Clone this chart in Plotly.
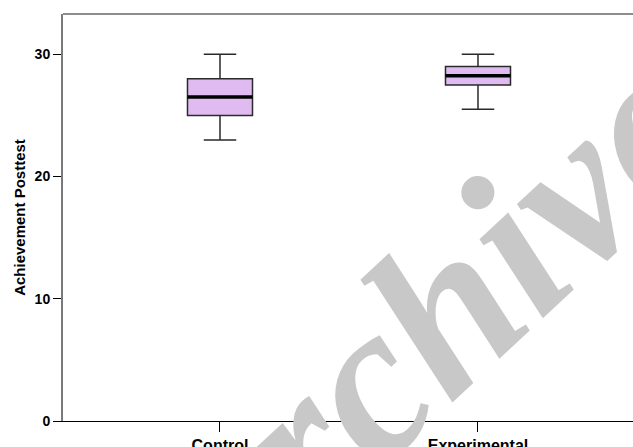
import plotly.graph_objects as go

# ---- data ----
groups = ["Control", "Experimental"]
lower_whisker = [23.0, 25.5]
q1_vals = [25.0, 27.5]
medians = [26.5, 28.25]
q3_vals = [28.0, 29.0]
upper_whisker = [30.0, 30.0]
y_ticks = [0, 10, 20, 30]
y_title = "Achievement Posttest"
watermark = "Archive"

BOX_W = 0.252
positions = list(range(len(groups)))

fig = go.Figure()
for i, g in enumerate(groups):
    fig.add_trace(go.Box(
        x=[positions[i]], q1=[q1_vals[i]], median=[medians[i]], q3=[q3_vals[i]],
        lowerfence=[lower_whisker[i]], upperfence=[upper_whisker[i]],
        width=BOX_W, whiskerwidth=0.5,
        fillcolor="#dfbbf1", line=dict(color="#2a2a2a", width=1.5),
        boxpoints=False, showlegend=False, hoverinfo="skip", name=g,
    ))
    # thick median line
    fig.add_trace(go.Scatter(
        x=[positions[i] - BOX_W / 2, positions[i] + BOX_W / 2],
        y=[medians[i], medians[i]], mode="lines",
        line=dict(color="black", width=3.5), showlegend=False, hoverinfo="skip",
    ))

FAM = "Arial, Liberation Sans, sans-serif"

def px2paper(px, py):
    return (px - 63) / 570, (421 - py) / 407

ax, ay = px2paper(412, 339)

fig.update_layout(
    width=633, height=447,
    margin=dict(l=63, r=0, t=14, b=26),
    paper_bgcolor="white", plot_bgcolor="white",
    xaxis=dict(
        range=[-0.6085, 1.6008], tickvals=positions, ticktext=groups,
        showgrid=False, zeroline=False, showline=True, linecolor="black", linewidth=1,
        ticks="outside", ticklen=10, tickcolor="black", tickwidth=1,
        tickfont=dict(family=FAM, size=16, color="black", weight="bold"),
        ticklabelstandoff=0, automargin=False,
    ),
    yaxis=dict(
        range=[0, 33.3], tickvals=y_ticks, showgrid=False, zeroline=False,
        showline=True, linecolor="#7a7a7a", linewidth=2,
        ticks="outside", ticklen=8, tickcolor="black", tickwidth=1,
        tickfont=dict(family=FAM, size=14, color="black", weight="bold"),
        title=dict(text=y_title, font=dict(family=FAM, size=15, color="black", weight="bold"),
                   standoff=5),
        automargin=False,
    ),
    shapes=[dict(type="line", xref="paper", yref="paper", x0=0, x1=1, y0=1, y1=1,
                 line=dict(color="#8c8c8c", width=2))],
    annotations=[dict(
        text=watermark, xref="paper", yref="paper", x=ax, y=ay,
        xanchor="center", yanchor="middle", showarrow=False, textangle=-43,
        font=dict(family="Liberation Serif, DejaVu Serif, serif", size=220,
                  color="#c8c8c8", weight="bold", style="italic"),
    )],
)

fig.write_html("out.html", config={"displayModeBar": False},
               post_script="document.body.style.margin='0';document.body.style.overflow='hidden';")
